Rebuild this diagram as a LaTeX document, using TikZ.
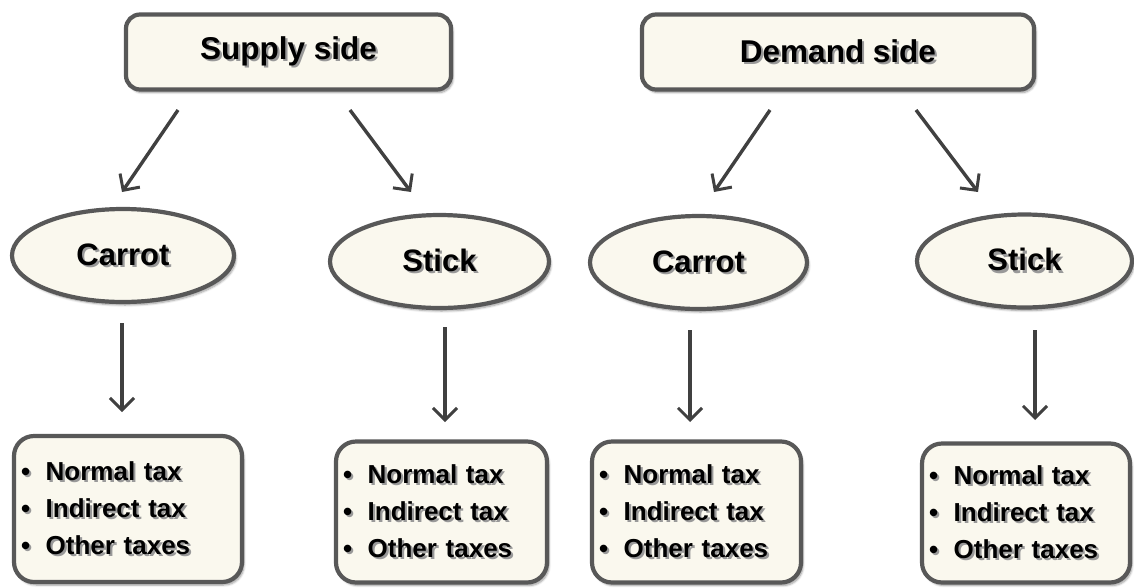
\documentclass[tikz,border=0pt]{standalone}
\usepackage{fontspec}
\setmainfont{Liberation Sans}
\usetikzlibrary{shapes.geometric,arrows.meta,shadows.blur}
\definecolor{cream}{HTML}{FAF8EE}
\definecolor{edge}{HTML}{585858}
\definecolor{arrowgray}{HTML}{404040}
\newcommand\shtxt[1]{\makebox[0pt][l]{\hspace{2.2pt}\raisebox{-2.2pt}{\textcolor{black!40}{#1}}}#1}
\newcommand\itm[1]{\hspace{3pt}\shtxt{•\hspace{0.6em}#1}}
\tikzset{
  base/.style={fill=cream, draw=edge, line width=4.2pt,
    blur shadow={shadow xshift=2pt, shadow yshift=-3pt, shadow blur steps=6, shadow opacity=40}},
  headbox/.style={base, rounded corners=14pt, minimum height=75pt, inner sep=0pt,
    font=\bfseries\fontsize{31.5}{38}\selectfont},
  oval/.style={base, ellipse, inner sep=0pt, font=\bfseries\fontsize{31}{36}\selectfont},
  listbox/.style={base, rounded corners=20pt, inner sep=0pt, align=left,
    font=\bfseries\fontsize{26}{37}\selectfont},
  arr/.style={draw=arrowgray, line width=3.4pt,
    -{Straight Barb[length=12pt,width=24pt,line width=3pt]}}
}
\begin{document}
\begin{tikzpicture}[x=1pt,y=-1pt]
\useasboundingbox (0,0) rectangle (1134,587);
% headers
\node[headbox, minimum width=325pt] (sup) at (288.5,52) {\shtxt{Supply side}};
\node[headbox, minimum width=392pt] (dem) at (838,52) {\shtxt{Demand side}};
% ovals
\node[oval, minimum width=222pt, minimum height=93pt] (c1) at (123,255.5) {\shtxt{Carrot}};
\node[oval, minimum width=219pt, minimum height=93pt] (s1) at (439.5,261.5) {\shtxt{Stick}};
\node[oval, minimum width=217pt, minimum height=93pt] (c2) at (698.5,262.5) {\shtxt{Carrot}};
\node[oval, minimum width=215pt, minimum height=93pt] (s2) at (1024.5,261) {\shtxt{Stick}};
% list boxes
\node[listbox, minimum width=228pt, minimum height=146pt, text width=220pt] (b1) at (128,509)
  {\itm{Normal tax}\\\itm{Indirect tax}\\\itm{Other taxes}};
\node[listbox, minimum width=211pt, minimum height=141pt, text width=203pt] (b2) at (441.5,512)
  {\itm{Normal tax}\\\itm{Indirect tax}\\\itm{Other taxes}};
\node[listbox, minimum width=209pt, minimum height=141pt, text width=201pt] (b3) at (696.5,512)
  {\itm{Normal tax}\\\itm{Indirect tax}\\\itm{Other taxes}};
\node[listbox, minimum width=208pt, minimum height=139pt, text width=200pt] (b4) at (1026,513)
  {\itm{Normal tax}\\\itm{Indirect tax}\\\itm{Other taxes}};
% connector end points
\coordinate (a1s) at (178,110); \coordinate (a1e) at (122,192);
\coordinate (a2s) at (350,110); \coordinate (a2e) at (411,192);
\coordinate (a3s) at (770,110); \coordinate (a3e) at (714,192);
\coordinate (a4s) at (916,110); \coordinate (a4e) at (978,192);
\coordinate (d1s) at (122,323); \coordinate (d1e) at (122,412);
\coordinate (d2s) at (445,327); \coordinate (d2e) at (445,422);
\coordinate (d3s) at (690,330); \coordinate (d3e) at (690,422);
\coordinate (d4s) at (1035,330); \coordinate (d4e) at (1035,420);
\draw[arr] (a1s) -- (a1e);
\draw[arr] (a2s) -- (a2e);
\draw[arr] (a3s) -- (a3e);
\draw[arr] (a4s) -- (a4e);
\draw[arr] (d1s) -- (d1e);
\draw[arr] (d2s) -- (d2e);
\draw[arr] (d3s) -- (d3e);
\draw[arr] (d4s) -- (d4e);
\end{tikzpicture}
\end{document}
